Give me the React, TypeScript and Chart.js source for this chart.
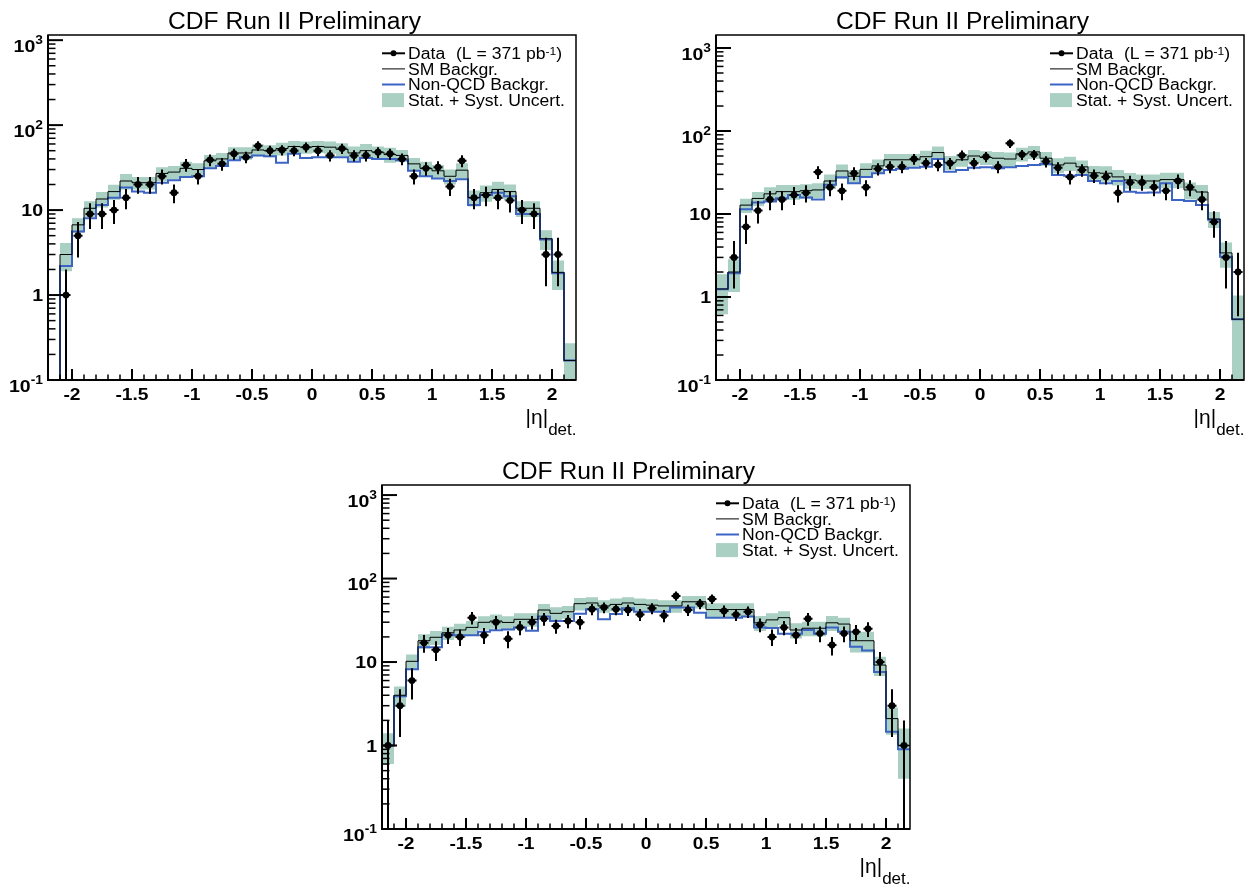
import React, { useEffect, useRef } from "react";
import { Chart, registerables } from "chart.js";

Chart.register(...registerables);

// ---------------- data ----------------
const etaCenters = [
  -2.15, -2.05, -1.95, -1.85, -1.75, -1.65, -1.55, -1.45, -1.35, -1.25, -1.15,
  -1.05, -0.95, -0.85, -0.75, -0.65, -0.55, -0.45, -0.35, -0.25, -0.15, -0.05,
  0.05, 0.15, 0.25, 0.35, 0.45, 0.55, 0.65, 0.75, 0.85, 0.95, 1.05, 1.15, 1.25,
  1.35, 1.45, 1.55, 1.65, 1.75, 1.85, 1.95, 2.05, 2.15,
];
const binHalfWidth = 0.05;
const etaMin = -2.2;
const etaMax = 2.2;

const xTickValues = [-2, -1.5, -1, -0.5, 0, 0.5, 1, 1.5, 2];
const xTickLabels = ["-2", "-1.5", "-1", "-0.5", "0", "0.5", "1", "1.5", "2"];
const yTickValues = [0.1, 1, 10, 100, 1000];
const yTickBase = ["10", "1", "10", "10", "10"];
const yTickSup = ["-1", "", "", "2", "3"];

const titleText = "CDF Run II Preliminary";
const legendData = "Data";
const legendLumi = "(L = 371 pb";
const legendLumiSup = "-1";
const legendLumiClose = ")";
const legendSM = "SM Backgr.";
const legendNonQCD = "Non-QCD Backgr.";
const legendBand = "Stat. + Syst. Uncert.";
const axisTitleMain = "|\u03B7|";
const axisTitleSub = "det.";

// Panel 1 (top left)
const p1Data = [0, 1, 5, 9, 9, 10, 14, 20, 20, 25, 16, 34, 25, 39, 35, 46, 42, 57, 50, 51, 50, 55, 50, 44, 53, 44, 44, 48, 46, 40, 25, 31, 32, 19, 38, 14, 15, 14, 13, 10, 9, 3, 3, 0];
const p1SM = [0, 3.0, 6.7, 10.5, 13.5, 16.5, 22, 21, 21, 27, 28, 31, 30, 38, 40, 47, 47, 51, 50, 53, 56, 55, 56, 55, 52, 47, 50, 48, 45, 44, 35, 31, 29, 25, 29.5, 14, 16, 17.5, 16.5, 10.5, 10.5, 4.6, 1.85, 0.17];
const p1NonQCD = [0, 2.2, 5.6, 8.0, 11.5, 14, 18.5, 16.5, 16, 21, 22.5, 24.5, 25, 31, 33, 38.5, 42, 44, 43, 36, 46, 41, 42, 42, 42, 37, 41, 40, 40, 38.7, 29, 25, 23.6, 22, 23, 11.5, 15, 16, 14.5, 9, 9, 4.5, 1.8, 0.17];
const p1Err = [0, 1.1, 1.3, 2.2, 2.8, 3.3, 4.5, 3.5, 3.5, 5, 5, 6, 5.5, 6.5, 7, 8, 8, 8, 8, 9, 9, 9, 9, 9, 9, 9, 10, 8, 9, 7, 6, 6, 5, 5, 6, 3, 3.5, 4, 3.5, 2.2, 2.2, 1.2, 0.7, 0.1];

// Panel 2 (top right)
const p2Data = [0, 3, 7, 11, 15, 15, 17, 18, 32, 21, 19, 31, 21, 35, 37, 37, 46, 41, 39, 41, 51, 41, 49, 37, 71, 52, 52, 43, 36, 28, 34, 29, 28, 18, 24, 24, 21, 19, 25, 21, 15, 8, 3, 2];
const p2SM = [1.25, 2.0, 12.8, 15.4, 17.5, 18.6, 18.6, 19.1, 19.5, 25, 33, 28.5, 34.5, 38, 45, 45, 45, 49, 55, 42, 45, 50, 48, 47, 46, 53, 56, 47, 39, 41, 37, 31.4, 31, 28, 25.7, 25, 25, 26, 26, 19.5, 18.4, 8.7, 3.4, 0.54];
const p2NonQCD = [1.24, 1.93, 11.4, 13.8, 14.1, 15.5, 16.9, 15.8, 15, 22.5, 27.7, 23.4, 28, 31, 34, 35, 36, 37, 46, 32.3, 34, 36, 36.5, 35.5, 36.5, 38, 39, 40, 29.5, 29, 29.5, 25, 23.4, 25, 18.6, 18, 18.2, 23.4, 14.7, 14.3, 12.8, 8.5, 3.06, 0.54];
const p2Err = [0.63, 0.85, 2.5, 3, 3.5, 3.7, 3.7, 3.8, 3.9, 5, 6.5, 5.5, 6.5, 7.5, 8, 8, 8, 9, 10, 8, 8, 9, 9, 9, 9, 10, 10, 9, 8, 8, 7, 6.5, 6.5, 6, 5.5, 5, 5, 5.5, 5.5, 4.5, 4, 1.9, 1.15, 0.5];

// Panel 3 (bottom)
const p3Data = [1, 3, 6, 17, 14, 21, 20, 34, 21, 30, 19, 26, 30, 33, 27, 31, 30, 43, 45, 43, 42, 37, 44, 36, 62, 42, 50, 57, 41, 37, 40, 28, 20, 26, 21, 33, 22, 16, 22, 23, 25, 10, 3, 1];
const p3SM = [1.0, 4.0, 10.2, 18, 19.8, 22.4, 24.2, 26, 29.9, 31, 29.8, 32.5, 32.5, 42, 38.3, 40, 50, 51, 47, 49, 51, 49, 48, 47, 47, 52.7, 52.7, 42.5, 42.5, 42.5, 42.5, 29.5, 32, 34, 24.2, 25.4, 25.4, 29.5, 28.5, 18, 18, 9.2, 2.1, 1.0];
const p3NonQCD = [1.0, 3.9, 8.2, 15, 15, 21.4, 21, 21, 23, 24, 24.5, 26, 23.7, 35, 31, 31, 38, 43, 32.5, 37.6, 44, 40, 40, 40, 45, 45, 39, 34, 34, 34, 35, 26, 25.5, 21.8, 21.8, 24.2, 21.8, 26, 23, 15.2, 13.7, 7.6, 1.46, 0.9];
const p3Err = [0.4, 1.1, 2.1, 3.5, 3.8, 4, 4.5, 5, 5.5, 6, 5.5, 6, 6, 7.5, 7, 7, 8.5, 8.5, 8, 8.5, 8.5, 8.5, 8.5, 8, 8, 9, 9, 8, 8, 8, 8, 6, 6.5, 6.5, 5, 5, 5, 6, 5.5, 5, 5, 2.4, 0.75, 0.6];

// ---------------- style ----------------
const FONT = "'Liberation Sans', Arial, Helvetica, sans-serif";
const BAND = "#a9d0c3";
const BLUE = "#3b64c4";
const FLOOR = 1e-3;
const DX = 0.0375;

interface PanelCfg {
  id: string;
  left: number;
  top: number;
  width: number;
  height: number;
  pad: { left: number; top: number; right: number; bottom: number };
  yMax: number;
  data: number[];
  sm: number[];
  nonqcd: number[];
  err: number[];
}

const panels: PanelCfg[] = [
  { id: "p1", left: 0, top: 0, width: 620, height: 445, pad: { left: 48, top: 35, right: 44, bottom: 65 }, yMax: 1150, data: p1Data, sm: p1SM, nonqcd: p1NonQCD, err: p1Err },
  { id: "p2", left: 628, top: 0, width: 628, height: 445, pad: { left: 88, top: 35, right: 12, bottom: 65 }, yMax: 1435, data: p2Data, sm: p2SM, nonqcd: p2NonQCD, err: p2Err },
  { id: "p3", left: 300, top: 445, width: 640, height: 446, pad: { left: 82, top: 40, right: 30, bottom: 62 }, yMax: 1320, data: p3Data, sm: p3SM, nonqcd: p3NonQCD, err: p3Err },
];

const edges = etaCenters.map((c) => +(c - binHalfWidth).toFixed(3)).concat([etaMax]);

function steps(vals: number[]) {
  const pts = vals.map((v, i) => ({ x: edges[i], y: v > 0 ? v : FLOOR }));
  pts.push({ x: edges[edges.length - 1], y: pts[pts.length - 1].y });
  return pts;
}

function textScaled(ctx: CanvasRenderingContext2D, s: string, x: number, y: number, font: string, sx: number, align: string) {
  ctx.save();
  ctx.font = font;
  const w = ctx.measureText(s).width * sx;
  let x0 = x;
  if (align === "center") x0 = x - w / 2;
  else if (align === "right") x0 = x - w;
  ctx.translate(x0, y);
  ctx.scale(sx, 1);
  ctx.textAlign = "left";
  ctx.textBaseline = "alphabetic";
  ctx.fillStyle = "#000";
  ctx.fillText(s, 0, 0);
  ctx.restore();
  return w;
}

function makePlugin(cfg: PanelCfg) {
  return {
    id: "cdf_" + cfg.id,
    afterDatasetsDraw(chart: any) {
      const ctx: CanvasRenderingContext2D = chart.ctx;
      const a = chart.chartArea;
      const xs = chart.scales.x;
      const ys = chart.scales.y;
      ctx.save();
      ctx.beginPath();
      ctx.rect(a.left, a.top, a.right - a.left, a.bottom - a.top);
      ctx.clip();
      ctx.strokeStyle = "#000";
      ctx.lineWidth = 2;
      cfg.data.forEach((n, k) => {
        if (!(n > 0)) return;
        const c = etaCenters[k];
        const e = Math.sqrt(n);
        const px = xs.getPixelForValue(c);
        const py = ys.getPixelForValue(n);
        const top = ys.getPixelForValue(n + e);
        const bot = n - e > 0 ? ys.getPixelForValue(n - e) : a.bottom + 5;
        ctx.beginPath();
        ctx.moveTo(px, top);
        ctx.lineTo(px, bot);
        ctx.moveTo(xs.getPixelForValue(c - DX), py);
        ctx.lineTo(xs.getPixelForValue(c + DX), py);
        ctx.stroke();
      });
      ctx.restore();
    },
    afterDraw(chart: any) {
      const ctx: CanvasRenderingContext2D = chart.ctx;
      const a = chart.chartArea;
      const xs = chart.scales.x;
      const ys = chart.scales.y;
      ctx.save();
      ctx.strokeStyle = "#000";
      ctx.fillStyle = "#000";
      // frame
      ctx.lineWidth = 1.5;
      ctx.strokeRect(a.left, a.top, a.right - a.left, a.bottom - a.top);
      ctx.lineWidth = 2;
      ctx.beginPath();
      ctx.moveTo(a.left, a.top);
      ctx.lineTo(a.left, a.bottom);
      ctx.lineTo(a.right, a.bottom);
      ctx.stroke();
      // x ticks
      for (let i = -21; i <= 21; i++) {
        const px = xs.getPixelForValue(i / 10);
        const major = i % 5 === 0;
        ctx.lineWidth = major ? 2 : 1.5;
        ctx.beginPath();
        ctx.moveTo(px, a.bottom);
        ctx.lineTo(px, a.bottom - (major ? 11 : 5.5));
        ctx.stroke();
      }
      // y ticks
      for (let d = -1; d <= 3; d++) {
        for (let m = 1; m <= 9; m++) {
          const v = m * Math.pow(10, d);
          if (v < 0.1 - 1e-9 || v > cfg.yMax) continue;
          const py = ys.getPixelForValue(v);
          if (m === 1 && d === -1) continue;
          ctx.lineWidth = m === 1 ? 2 : 1.5;
          ctx.beginPath();
          ctx.moveTo(a.left, py);
          ctx.lineTo(a.left + (m === 1 ? 15 : 7.5), py);
          ctx.stroke();
        }
      }
      // x labels
      const tickFont = `bold 17px ${FONT}`;
      xTickValues.forEach((v, i) => {
        textScaled(ctx, xTickLabels[i], xs.getPixelForValue(v), a.bottom + 19.5, tickFont, 1.13, "center");
      });
      // y labels
      const supFont = `bold 12px ${FONT}`;
      yTickValues.forEach((v, i) => {
        const py = ys.getPixelForValue(v);
        const right = a.left - 5;
        if (yTickSup[i]) {
          ctx.font = supFont;
          const sw = ctx.measureText(yTickSup[i]).width * 1.15;
          textScaled(ctx, yTickSup[i], right, py + 3.7, supFont, 1.15, "right");
          textScaled(ctx, yTickBase[i], right - sw, py + 11.5, tickFont, 1.15, "right");
        } else {
          textScaled(ctx, yTickBase[i], right, py + 6, tickFont, 1.15, "right");
        }
      });
      // title
      textScaled(ctx, titleText, a.left + 246.5, a.top - 5.7, `23px ${FONT}`, 1.07, "center");
      // axis title
      const subFont = `17px ${FONT}`;
      ctx.font = subFont;
      const subW = ctx.measureText(axisTitleSub).width;
      textScaled(ctx, axisTitleSub, a.right + 0.5, a.bottom + 55, subFont, 1, "right");
      textScaled(ctx, axisTitleMain, a.right + 0.5 - subW, a.bottom + 44, `21px ${FONT}`, 1, "right");
      // legend
      const L = a.left;
      const T = a.top;
      const x0 = L + 334;
      const x1 = L + 357;
      const tx = L + 360;
      const rows = [0, 1, 2, 3].map((i) => T + 18.3 + 15.6 * i);
      const legFont = `16px ${FONT}`;
      // data row
      ctx.strokeStyle = "#000";
      ctx.lineWidth = 2;
      ctx.beginPath();
      ctx.moveTo(x0, rows[0]);
      ctx.lineTo(x1, rows[0]);
      ctx.stroke();
      ctx.beginPath();
      ctx.arc((x0 + x1) / 2, rows[0], 3, 0, Math.PI * 2);
      ctx.fill();
      textScaled(ctx, legendData, tx, rows[0] + 5.8, legFont, 1.1, "left");
      let cx = L + 408;
      cx += textScaled(ctx, legendLumi, cx, rows[0] + 5.8, legFont, 1.1, "left");
      cx += textScaled(ctx, legendLumiSup, cx, rows[0] + 2, `11px ${FONT}`, 1.1, "left");
      textScaled(ctx, legendLumiClose, cx, rows[0] + 5.8, legFont, 1.1, "left");
      // SM row
      ctx.lineWidth = 1;
      ctx.beginPath();
      ctx.moveTo(x0, rows[1]);
      ctx.lineTo(x1, rows[1]);
      ctx.stroke();
      textScaled(ctx, legendSM, tx, rows[1] + 5.8, legFont, 1.1, "left");
      // non-QCD row
      ctx.strokeStyle = BLUE;
      ctx.lineWidth = 2;
      ctx.beginPath();
      ctx.moveTo(x0, rows[2]);
      ctx.lineTo(x1, rows[2]);
      ctx.stroke();
      textScaled(ctx, legendNonQCD, tx, rows[2] + 5.8, legFont, 1.1, "left");
      // band row
      ctx.fillStyle = BAND;
      ctx.fillRect(x0, rows[3] - 7, x1 - x0 - 1, 14);
      textScaled(ctx, legendBand, tx, rows[3] + 5.8, legFont, 1.1, "left");
      ctx.restore();
    },
  };
}

function Panel({ cfg }: { cfg: PanelCfg }) {
  const ref = useRef<HTMLCanvasElement>(null);
  useEffect(() => {
    const canvas = ref.current;
    if (!canvas) return;
    const hi = cfg.sm.map((v, i) => (v > 0 ? v + cfg.err[i] : 0));
    const lo = cfg.sm.map((v, i) => (v > 0 && v - cfg.err[i] > 0 ? v - cfg.err[i] : 0));
    const markers = cfg.data
      .map((n, i) => ({ x: etaCenters[i], y: n }))
      .filter((p) => p.y > 0);
    const chart = new Chart(canvas, {
      type: "line",
      data: {
        datasets: [
          {
            data: steps(hi),
            stepped: true,
            fill: "+1",
            backgroundColor: BAND,
            borderColor: "rgba(0,0,0,0)",
            borderWidth: 1,
            pointRadius: 0,
            order: 5,
          } as any,
          {
            data: steps(lo),
            stepped: true,
            fill: false,
            borderColor: "rgba(0,0,0,0)",
            borderWidth: 1,
            pointRadius: 0,
            order: 4,
          },
          {
            data: steps(cfg.nonqcd),
            stepped: true,
            fill: false,
            borderColor: BLUE,
            borderWidth: 2,
            pointRadius: 0,
            order: 3,
          },
          {
            data: steps(cfg.sm),
            stepped: true,
            fill: false,
            borderColor: "#000",
            borderWidth: 1,
            pointRadius: 0,
            order: 2,
          },
          {
            data: markers,
            showLine: false,
            pointRadius: 3.4,
            pointBackgroundColor: "#000",
            pointBorderColor: "#000",
            pointBorderWidth: 0,
            order: 1,
          },
        ],
      },
      options: {
        animation: false,
        responsive: false,
        maintainAspectRatio: false,
        devicePixelRatio: 1,
        events: [],
        layout: { padding: cfg.pad },
        plugins: {
          legend: { display: false },
          tooltip: { enabled: false },
          title: { display: false },
        },
        scales: {
          x: { type: "linear", min: etaMin, max: etaMax, display: false },
          y: { type: "logarithmic", min: 0.1, max: cfg.yMax, display: false },
        },
      },
      plugins: [makePlugin(cfg)],
    } as any);
    return () => chart.destroy();
  }, [cfg]);
  return (
    <canvas
      ref={ref}
      width={cfg.width}
      height={cfg.height}
      style={{ position: "absolute", left: cfg.left, top: cfg.top, width: cfg.width, height: cfg.height, display: "block" }}
    />
  );
}

export default function App() {
  return (
    <div style={{ position: "absolute", left: 0, top: 0, width: 1256, height: 891, background: "#fff" }}>
      {panels.map((p) => (
        <Panel key={p.id} cfg={p} />
      ))}
    </div>
  );
}
